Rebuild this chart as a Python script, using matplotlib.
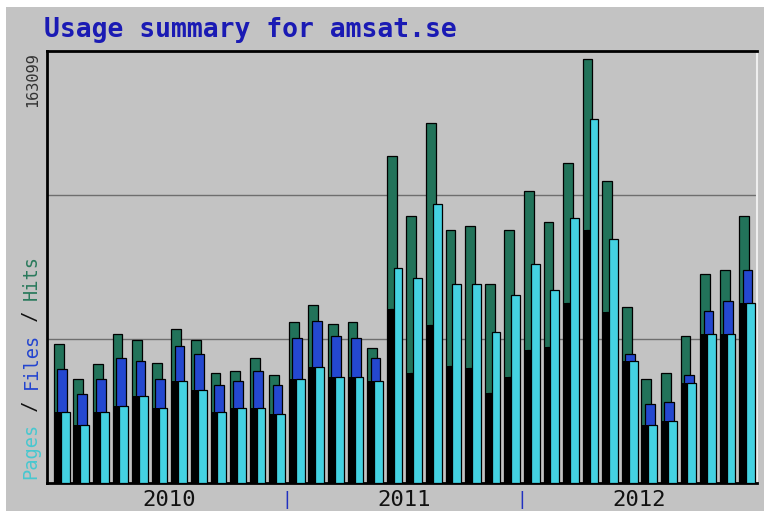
import numpy as np
import matplotlib
matplotlib.use("Agg")
import matplotlib.pyplot as plt
from matplotlib.patches import Rectangle

# monthly totals, Jan 2010 .. Dec 2012
hits = [53412, 39963, 45612, 57370, 54949, 46227, 59061, 54949, 42384, 43037, 47917, 41500,
        61981, 68398, 61213, 61981, 51760, 125653, 102597, 138334, 97103, 98640, 76352, 97103,
        112204, 100177, 123078, 163099, 116047, 67745, 39848, 42384, 56602, 80310, 81847, 102597]
files = [43690, 34199, 39963, 47917, 46995, 39963, 52644, 49454, 37542, 39079, 43037, 37542,
         55833, 62250, 56486, 55833, 47917, 66977, 42384, 60713, 44958, 44075, 34468, 40847,
         51107, 52375, 69282, 97218, 65824, 49454, 30357, 31125, 41500, 66093, 70051, 81847]
pages = [27167, 22287, 27167, 29588, 33431, 28704, 39079, 35851, 27167, 28704, 28704, 26399,
         39848, 44459, 40616, 40616, 39079, 82616, 78773, 107209, 76352, 76352, 58139, 72356,
         84268, 74047, 101714, 139871, 93759, 46995, 22287, 23939, 38311, 57139, 57139, 69052]
years = ["2010", "2011", "2012"]
max_label = "163099"
site = "amsat.se"

W, H = 764, 511
BG = "#c3c3c3"
C_HITS = "#22735a"
C_FILES = "#2448d0"
C_PAGES = "#44d2e2"

fig = plt.figure(figsize=(W / 100, H / 100), dpi=100, facecolor=BG)
# light bevel on top / left edge
fig.patches.append(Rectangle((0, 1 - 7 / H), 1, 7 / H, transform=fig.transFigure,
                             facecolor="white", edgecolor="none"))
fig.patches.append(Rectangle((0, 0), 6 / W, 1, transform=fig.transFigure,
                             facecolor="white", edgecolor="none"))

ax = fig.add_axes([47 / W, 1 - 483 / H, (757 - 47) / W, (483 - 51) / H])
ax.set_facecolor(BG)

ymax = 166000
n = len(hits)
x = np.arange(n)
dark = np.minimum(files, pages)

ax.bar(x + 0.10, hits, width=0.50, align="edge", color=C_HITS, edgecolor="black", lw=0.9, zorder=2)
ax.bar(x + 0.27, files, width=0.50, align="edge", color=C_FILES, edgecolor="black", lw=0.9, zorder=3)
ax.bar(x + 0.10, dark, width=0.35, align="edge", color="black", edgecolor="none", zorder=4)
ax.bar(x + 0.45, pages, width=0.45, align="edge", color=C_PAGES, edgecolor="black", lw=0.9, zorder=5)

for g in (ymax / 3, 2 * ymax / 3):
    ax.axhline(g, color="#6e6e6e", lw=1, zorder=1)

ax.set_xlim(-0.25, 36)
ax.set_ylim(0, ymax)
ax.set_xticks([])
ax.set_yticks([])
for s in ("left", "top", "bottom"):
    ax.spines[s].set_color("black")
    ax.spines[s].set_linewidth(2)
ax.spines["right"].set_color("#eeeeee")
ax.spines["right"].set_linewidth(1.5)

tr = ax.get_xaxis_transform()
for i, yr in enumerate(years):
    ax.text(i * 12 + 6, -0.04, yr, transform=tr, ha="center", va="center",
            fontfamily="DejaVu Sans Mono", fontsize=16, color="#111111")
for b in (12, 24):
    ax.text(b, -0.04, "|", transform=tr, ha="center", va="center",
            fontfamily="DejaVu Sans Mono", fontsize=13, color="#2030c0")

fig.text(44 / W, 1 - 30 / H, "Usage summary for " + site, ha="left", va="center",
         fontfamily="DejaVu Sans Mono", fontweight="bold", fontsize=19, color="#1a1ab4")

fig.text(33 / W, 1 - 52 / H, max_label, rotation=90, rotation_mode="anchor",
         ha="right", va="center", fontfamily="DejaVu Sans Mono", fontsize=11,
         color="#333333")

# multicolour rotated legend label
parts = [("Pages", "#48c8d0"), (" / ", "#111111"), ("Files", "#2244d0"),
         (" / ", "#111111"), ("Hits", "#2a7a5c")]
fs = 13.4
adv = 0.602 * fs * 100 / 72
pos = 0
for txt, col in parts:
    fig.text(31 / W, 1 - (479 - pos * adv) / H, txt, rotation=90, rotation_mode="anchor",
             ha="left", va="center", fontfamily="DejaVu Sans Mono", fontsize=fs, color=col)
    pos += len(txt)

fig.savefig("out.png", dpi=100, facecolor=BG)
